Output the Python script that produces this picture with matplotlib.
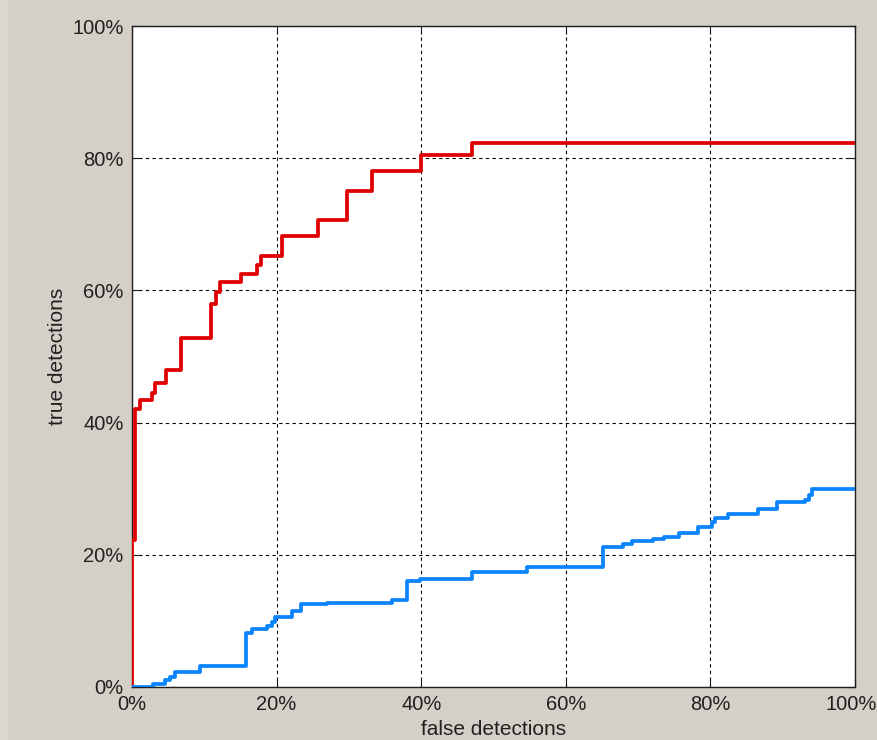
import matplotlib
matplotlib.use("Agg")
import matplotlib.pyplot as plt
from matplotlib.patches import Rectangle
from matplotlib.ticker import FuncFormatter
from matplotlib.transforms import ScaledTranslation

# red curve (steps-post), percent
red_x = [0, 0, 0.4, 1.1, 2.8, 3.2, 4.7, 6.8, 10.9, 11.6, 12.2, 15.1, 17.3, 17.8,
         20.7, 25.7, 29.7, 33.2, 40.0, 47.0, 100]
red_y = [0, 22.2, 42.0, 43.4, 44.5, 46.0, 48.0, 52.8, 58.0, 59.8, 61.3, 62.5, 63.8, 65.2,
         68.2, 70.6, 75.0, 78.0, 80.5, 82.3, 82.3]

# blue curve (steps-post), percent
blue_x = [0, 2.9, 4.6, 5.3, 5.9, 9.4, 15.8, 16.6, 18.7, 19.4, 19.8, 22.1, 23.4, 27.0,
          36.0, 38.0, 39.8, 47.0, 54.6, 65.1, 67.9, 69.2, 72.0, 73.6, 75.7, 78.3,
          80.2, 80.7, 82.4, 86.6, 89.2, 93.1, 93.6, 94.1, 100]
blue_y = [0, 0.5, 1.0, 1.5, 2.3, 3.2, 8.2, 8.8, 9.2, 9.8, 10.6, 11.5, 12.5, 12.7,
          13.1, 16.0, 16.3, 17.4, 18.2, 21.2, 21.6, 22.1, 22.4, 22.7, 23.3, 24.2,
          25.0, 25.6, 26.2, 26.9, 28.0, 28.3, 29.0, 30.0, 30.0]

ticks = [0, 20, 40, 60, 80, 100]

plt.rcParams['font.family'] = ['Liberation Sans', 'DejaVu Sans']

fig = plt.figure(figsize=(8.77, 7.40), dpi=100, facecolor='#d4d0c8')
# slightly lighter strip at the left edge of the window
fig.patches.append(Rectangle((0, 0), 8 / 877, 1, transform=fig.transFigure,
                             facecolor='#dcd8d0', edgecolor='none', zorder=0))
ax = fig.add_axes([132 / 877, 53 / 740, 723 / 877, 661 / 740])
ax.set_facecolor('white')

ax.plot(red_x, red_y, drawstyle='steps-post', color='#e00000', linewidth=2.7, zorder=3)
ax.plot(blue_x, blue_y, drawstyle='steps-post', color='#0a84ff', linewidth=2.7, zorder=3)

ax.set_xlim(0, 100)
ax.set_ylim(0, 100)
ax.set_xticks(ticks)
ax.set_yticks(ticks)
pct = FuncFormatter(lambda v, p: f"{v:.0f}%")
ax.xaxis.set_major_formatter(pct)
ax.yaxis.set_major_formatter(pct)
ax.tick_params(direction='in', length=6, width=0.8, top=True, right=True,
               labelsize=14.5, colors='#202020', pad=6)
ax.grid(True, color='black', linestyle=(0, (3, 3)), linewidth=0.8)
for s in ax.spines.values():
    s.set_linewidth(1.0)
    s.set_color('#202020')

# keep the last x tick label inside the window
last = ax.get_xticklabels()[-1]
last.set_transform(last.get_transform() + ScaledTranslation(-4 / 100, 0, fig.dpi_scale_trans))

ax.set_xlabel('false detections', fontsize=15, color='#202020', labelpad=4)
ax.set_ylabel('true detections', fontsize=15, color='#202020', labelpad=4)

fig.savefig('out.png', dpi=100, facecolor=fig.get_facecolor())
